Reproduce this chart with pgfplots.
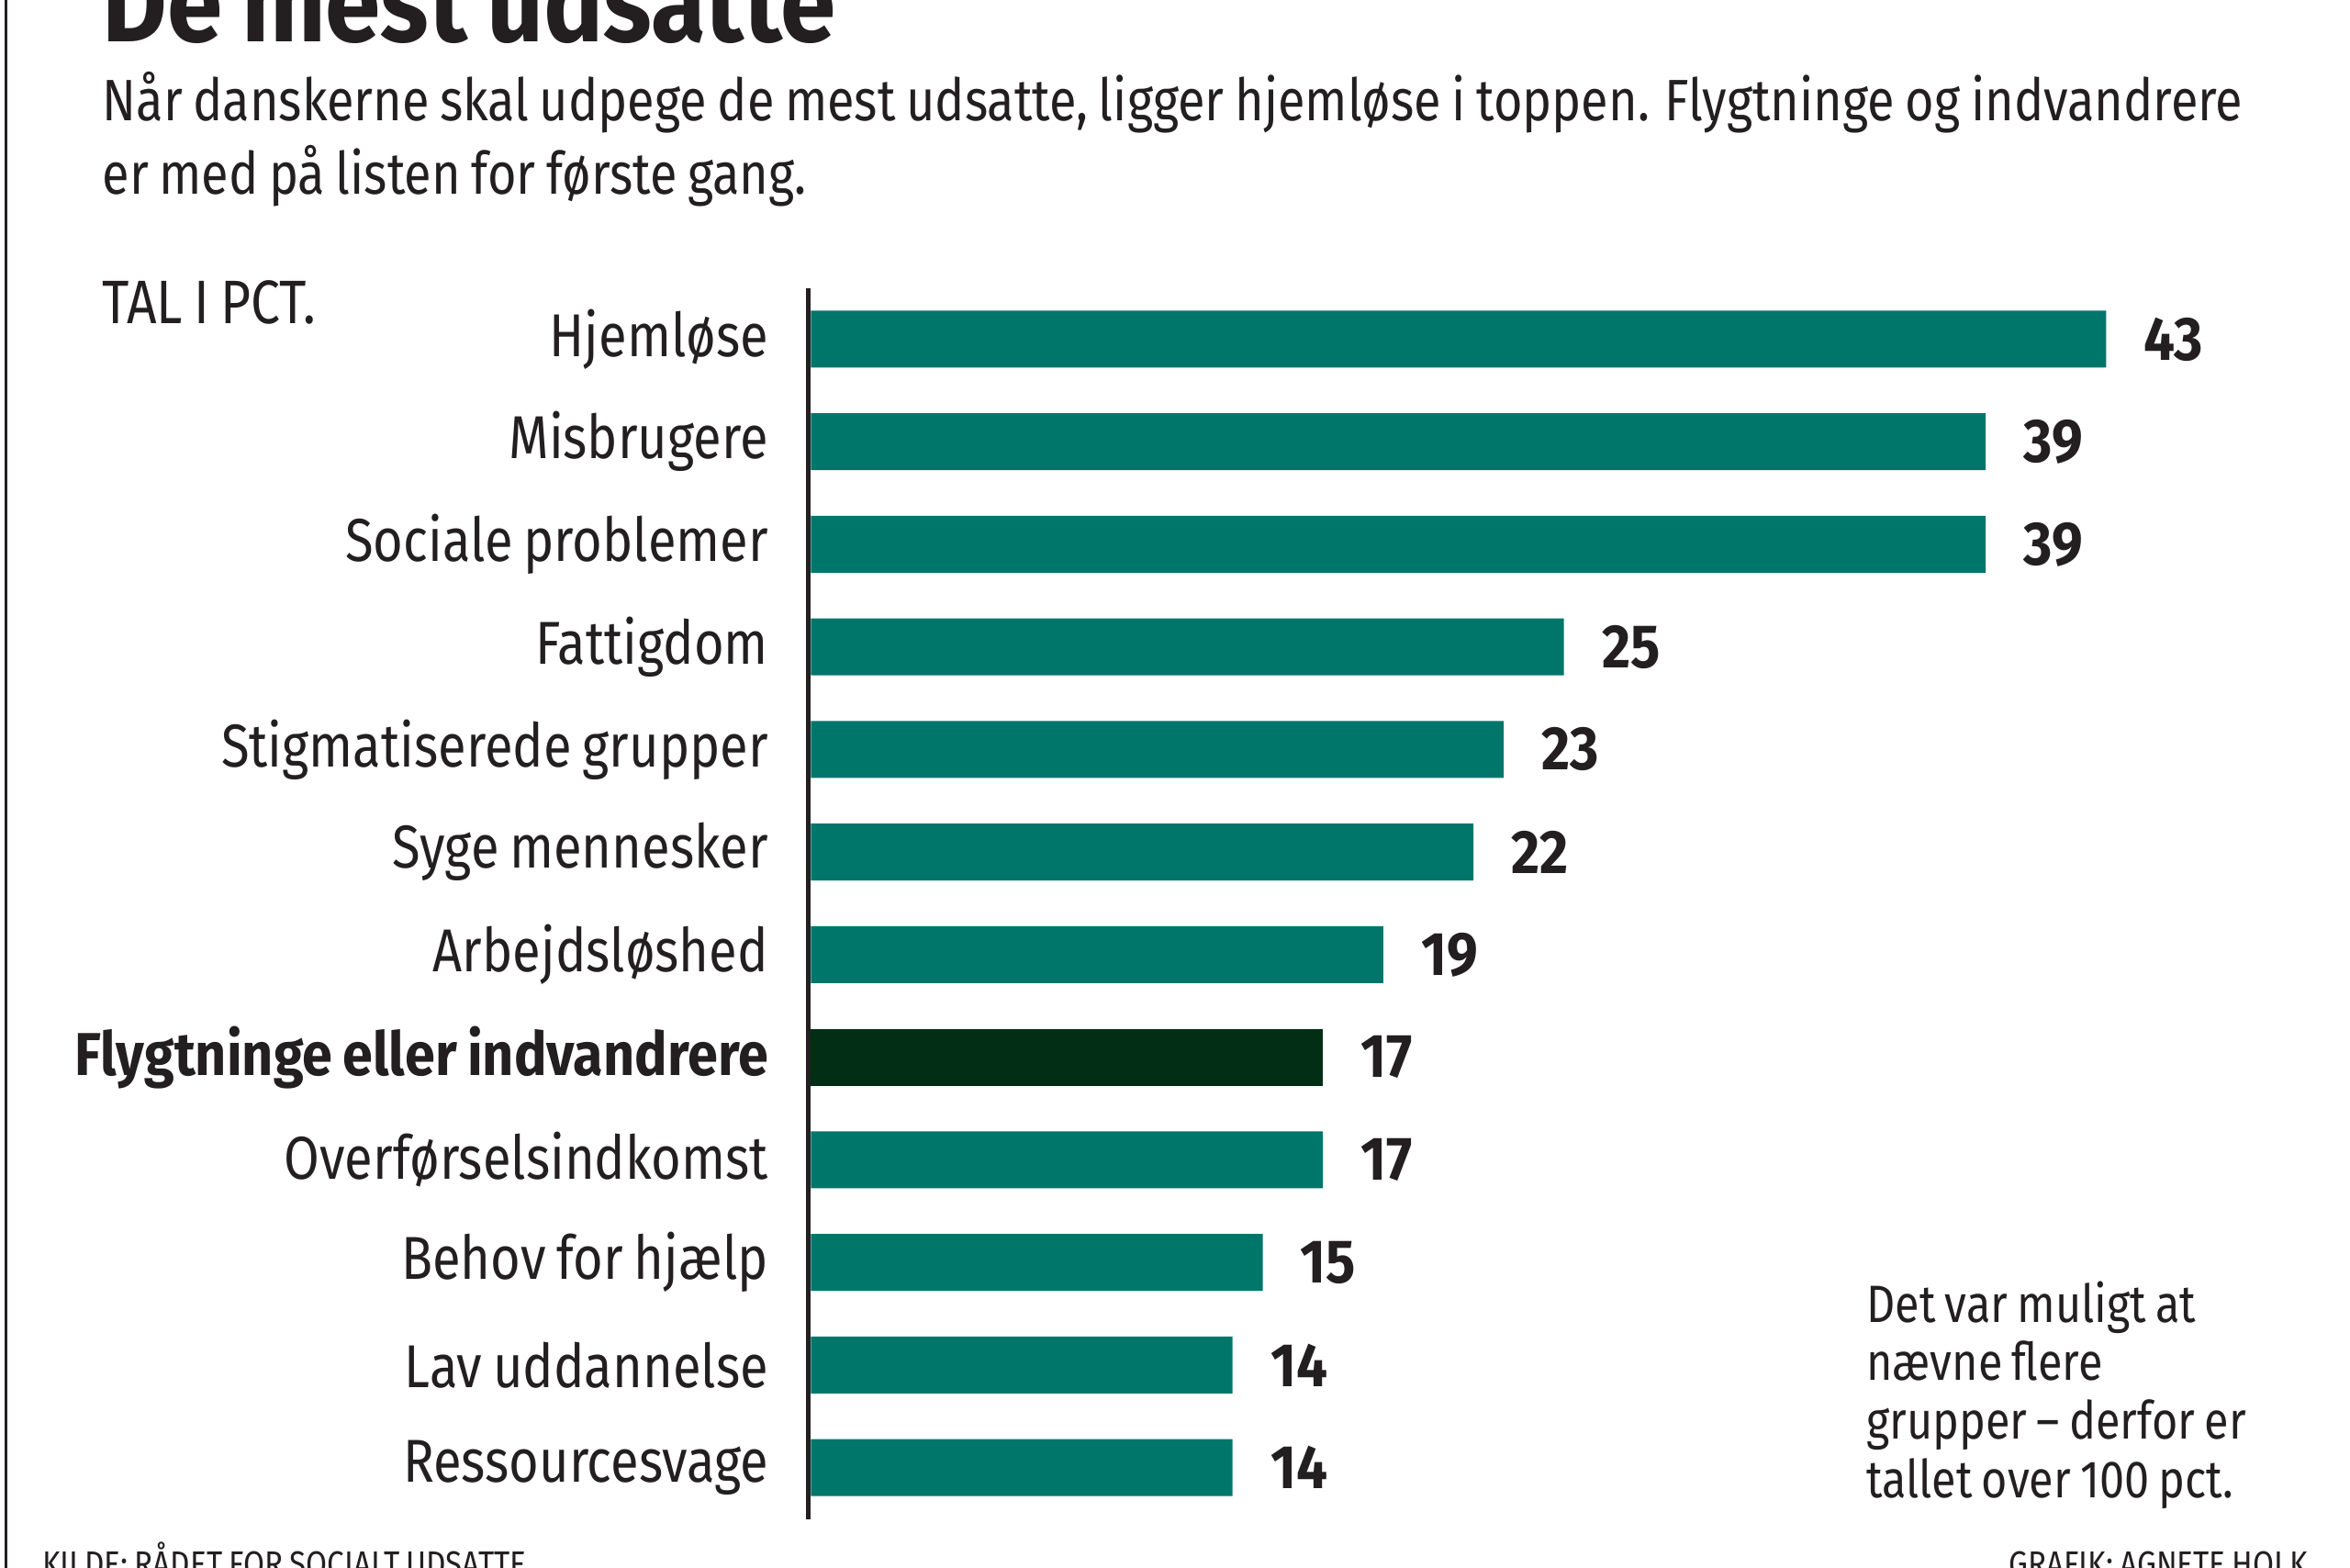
\documentclass[border=0pt]{standalone}
\usepackage{fontspec}
\setmainfont{Fira Sans}[FakeStretch=0.85, WordSpace=0.8, BoldFeatures={FakeStretch=0.9}]
\usepackage{pgfplots}
\pgfplotsset{compat=1.18}
\definecolor{barteal}{HTML}{00766B}
\definecolor{bardark}{HTML}{032E16}
\definecolor{ink}{HTML}{231F20}

\begin{document}
\begin{tikzpicture}
\begin{scope}[x=0.5pt,y=-0.5pt]
  \path[use as bounding box] (0,0) rectangle (1568,1046);
  \draw[ink, line width=0.9pt] (4,0) -- (4,1046);
  \node[anchor=base west, inner sep=0, text=ink, font=\fontsize{37}{40}\selectfont\bfseries] at (68,27.6) {De mest udsatte};
  \node[anchor=base west, inner sep=0, text=ink, font=\fontsize{19.5}{24}\selectfont] at (68,80.6)
    {Når danskerne skal udpege de mest udsatte, ligger hjemløse i toppen. Flygtninge og indvandrere};
  \node[anchor=base west, inner sep=0, text=ink, font=\fontsize{19.5}{24}\selectfont] at (68,129.6)
    {er med på listen for første gang.};
  \node[anchor=base west, inner sep=0, text=ink, font=\fontsize{20.5}{24}\selectfont] at (68,216) {TAL I PCT.};
  % note on the right
  \node[anchor=base west, inner sep=0, text=ink, font=\fontsize{17.5}{20}\selectfont] at (1245,882) {Det var muligt at};
  \node[anchor=base west, inner sep=0, text=ink, font=\fontsize{17.5}{20}\selectfont] at (1245,921) {nævne flere};
  \node[anchor=base west, inner sep=0, text=ink, font=\fontsize{17.5}{20}\selectfont] at (1245,960) {grupper – derfor er};
  \node[anchor=base west, inner sep=0, text=ink, font=\fontsize{17.5}{20}\selectfont] at (1245,999) {tallet over 100 pct.};
  % footer
  \node[anchor=base west, inner sep=0, text=ink, font=\fontsize{12}{14}\selectfont] at (28,1052) {KILDE: RÅDET FOR SOCIALT UDSATTE};
  \node[anchor=base east, inner sep=0, text=ink, font=\fontsize{12}{14}\selectfont] at (1540,1052) {GRAFIK: AGNETE HOLK};
\end{scope}

\begin{axis}[
  at={(270.5pt,-96pt)}, anchor=north west,
  width=502.5pt, height=410.7pt, scale only axis,
  xmin=0, xmax=50, ymin=-0.5, ymax=11.5, y dir=reverse,
  xbar, bar width=19pt, bar shift=0pt,
  clip=false,
  axis line style={draw=none},
  xtick=\empty,
  ytick={0,...,11},
  yticklabels={Hjemløse, Misbrugere, Sociale problemer, Fattigdom, Stigmatiserede grupper, Syge mennesker, Arbejdsløshed, {\bfseries Flygtninge eller indvandrere}, Overførselsindkomst, Behov for hjælp, Lav uddannelse, Ressourcesvage},
  major tick length=0pt,
  tick style={draw=none},
  yticklabel style={font=\fontsize{20.2}{24}\selectfont, text=ink, inner sep=0pt, xshift=-14pt},
  /pgf/number format/assume math mode=true,
  nodes near coords,
  nodes near coords style={font=\fontsize{20.5}{20}\selectfont\bfseries, text=ink, anchor=west, inner sep=0pt, xshift=12.5pt},
]
  \addplot[fill=barteal, draw=none] coordinates {
    (43,0) (39,1) (39,2) (25,3) (23,4) (22,5) (19,6) (17,8) (15,9) (14,10) (14,11)
  };
  \addplot[fill=bardark, draw=none] coordinates {(17,7)};
  \draw[ink, line width=1.5pt] ([xshift=-0.75pt]rel axis cs:0,0) -- ([xshift=-0.75pt]rel axis cs:0,1);
\end{axis}
\end{tikzpicture}
\end{document}
